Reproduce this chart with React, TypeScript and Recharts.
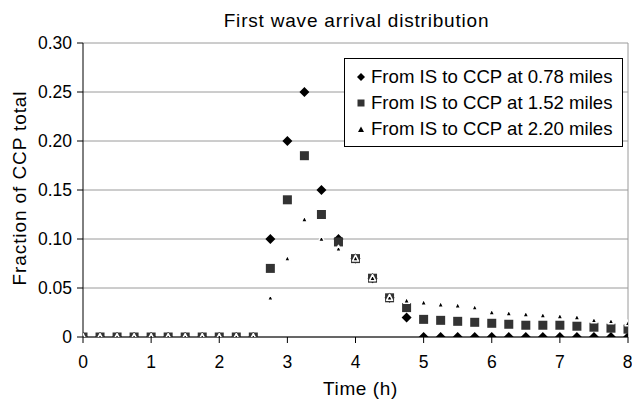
import React from 'react';
import {
  ScatterChart,
  Scatter,
  XAxis,
  YAxis,
  CartesianGrid,
  ReferenceLine,
  Label,
} from 'recharts';

const times = [
  0, 0.25, 0.5, 0.75, 1, 1.25, 1.5, 1.75, 2, 2.25, 2.5, 2.75, 3, 3.25, 3.5, 3.75,
  4, 4.25, 4.5, 4.75, 5, 5.25, 5.5, 5.75, 6, 6.25, 6.5, 6.75, 7, 7.25, 7.5, 7.75, 8,
];

const near078 = [
  0, 0, 0, 0, 0, 0, 0, 0, 0, 0, 0, 0.1, 0.2, 0.25, 0.15, 0.1,
  0.08, 0.06, 0.04, 0.02, 0, 0, 0, 0, 0, 0, 0, 0, 0, 0, 0, 0, 0,
];

const mid152 = [
  0, 0, 0, 0, 0, 0, 0, 0, 0, 0, 0, 0.07, 0.14, 0.185, 0.125, 0.097,
  0.08, 0.06, 0.04, 0.03, 0.018, 0.017, 0.016, 0.015, 0.014, 0.013, 0.012, 0.012,
  0.012, 0.011, 0.01, 0.009, 0.008,
];

const far220 = [
  0, 0, 0, 0, 0, 0, 0, 0, 0, 0, 0, 0.04, 0.08, 0.12, 0.1, 0.09,
  0.08, 0.06, 0.04, 0.037, 0.035, 0.033, 0.032, 0.03, 0.025, 0.024, 0.023, 0.022,
  0.021, 0.02, 0.017, 0.016, 0.014,
];

const xTicks = [0, 1, 2, 3, 4, 5, 6, 7, 8];
const yTicks = [0, 0.05, 0.1, 0.15, 0.2, 0.25, 0.3];

const seriesNames = [
  'From IS to CCP at 0.78 miles',
  'From IS to CCP at 1.52 miles',
  'From IS to CCP at 2.20 miles',
];

const FONT = '"Liberation Sans", Arial, sans-serif';

const toPoints = (values: number[]) => values.map((y, i) => ({ x: times[i], y }));

const DiamondShape = (props: any) => {
  const { cx, cy } = props;
  const r = 5;
  return (
    <polygon
      points={`${cx},${cy - r} ${cx + r},${cy} ${cx},${cy + r} ${cx - r},${cy}`}
      fill="#000"
    />
  );
};

const SquareShape = (props: any) => {
  const { cx, cy } = props;
  return <rect x={cx - 4.5} y={cy - 4.5} width={9} height={9} fill="#333" />;
};

const TriangleShape = (props: any) => {
  const { cx, cy } = props;
  return (
    <polygon
      points={`${cx},${cy - 3.5} ${cx + 3},${cy + 2.5} ${cx - 3},${cy + 2.5}`}
      fill="#000"
      stroke="#fff"
      strokeWidth={1.5}
      strokeLinejoin="round"
    />
  );
};

// small legend markers
const legendIcons = [
  <polygon key="d" points="5,1 9,5 5,9 1,5" fill="#000" />,
  <rect key="s" x={1.5} y={1.5} width={7} height={7} fill="#333" />,
  <polygon key="t" points="5,2.5 8,8 2,8" fill="#000" />,
];

const YTitle = (props: any) => {
  const { viewBox } = props;
  const cy = viewBox.y + viewBox.height / 2 - 2;
  return (
    <text
      x={19}
      y={cy}
      transform={`rotate(-90, 19, ${cy})`}
      textAnchor="middle"
      dominantBaseline="central"
      fontSize={19}
      letterSpacing={0.9}
      fontFamily={FONT}
      fill="#000"
    >
      Fraction of CCP total
    </text>
  );
};

const XTitle = (props: any) => {
  const { viewBox } = props;
  return (
    <text
      x={viewBox.x + viewBox.width / 2 + 5}
      y={395}
      textAnchor="middle"
      fontSize={19}
      letterSpacing={0.6}
      fontFamily={FONT}
      fill="#000"
    >
      Time (h)
    </text>
  );
};

export default function App() {
  return (
    <div
      style={{
        position: 'absolute',
        left: 0,
        top: 0,
        width: 632,
        height: 403,
        background: '#fff',
        fontFamily: FONT,
      }}
    >
      <div
        style={{
          position: 'absolute',
          left: 83,
          top: 10,
          width: 547,
          textAlign: 'center',
          fontSize: 19,
          letterSpacing: 0.8,
          lineHeight: '21px',
          color: '#000',
        }}
      >
        First wave arrival distribution
      </div>
      <ScatterChart
        width={632}
        height={403}
        margin={{ top: 43, right: 4, bottom: 0, left: 0 }}
      >
        <CartesianGrid vertical={false} stroke="#9a9a9a" />
        <ReferenceLine x={8} stroke="#9a9a9a" />
        <XAxis
          type="number"
          dataKey="x"
          domain={[0, 8]}
          ticks={xTicks}
          height={66}
          stroke="#000"
          tickSize={6}
          tickMargin={13}
          tick={{ fill: '#000', fontSize: 17.5, fontFamily: FONT }}
          allowDataOverflow
        >
          <Label content={<XTitle />} />
        </XAxis>
        <YAxis
          type="number"
          dataKey="y"
          domain={[0, 0.3]}
          ticks={yTicks}
          width={83}
          stroke="#000"
          tickSize={6}
          tickMargin={5}
          tickFormatter={(v: number) => (v === 0 ? '0' : v.toFixed(2))}
          tick={{ fill: '#000', fontSize: 17.5, fontFamily: FONT }}
          allowDataOverflow
        >
          <Label content={<YTitle />} />
        </YAxis>
        <Scatter
          name={seriesNames[0]}
          data={toPoints(near078)}
          shape={DiamondShape}
          isAnimationActive={false}
        />
        <Scatter
          name={seriesNames[1]}
          data={toPoints(mid152)}
          shape={SquareShape}
          isAnimationActive={false}
        />
        <Scatter
          name={seriesNames[2]}
          data={toPoints(far220)}
          shape={TriangleShape}
          isAnimationActive={false}
        />
      </ScatterChart>
      <div
        style={{
          position: 'absolute',
          left: 344,
          top: 58,
          width: 277,
          height: 82,
          border: '1px solid #000',
          background: '#fff',
          paddingTop: 5,
          boxSizing: 'content-box',
        }}
      >
        {seriesNames.map((name, i) => (
          <div
            key={name}
            style={{
              display: 'flex',
              alignItems: 'center',
              height: 26,
              fontSize: 18.6,
              color: '#000',
              whiteSpace: 'nowrap',
            }}
          >
            <svg width={10} height={10} style={{ marginLeft: 11, marginRight: 5 }}>
              {legendIcons[i]}
            </svg>
            <span>{name}</span>
          </div>
        ))}
      </div>
    </div>
  );
}
